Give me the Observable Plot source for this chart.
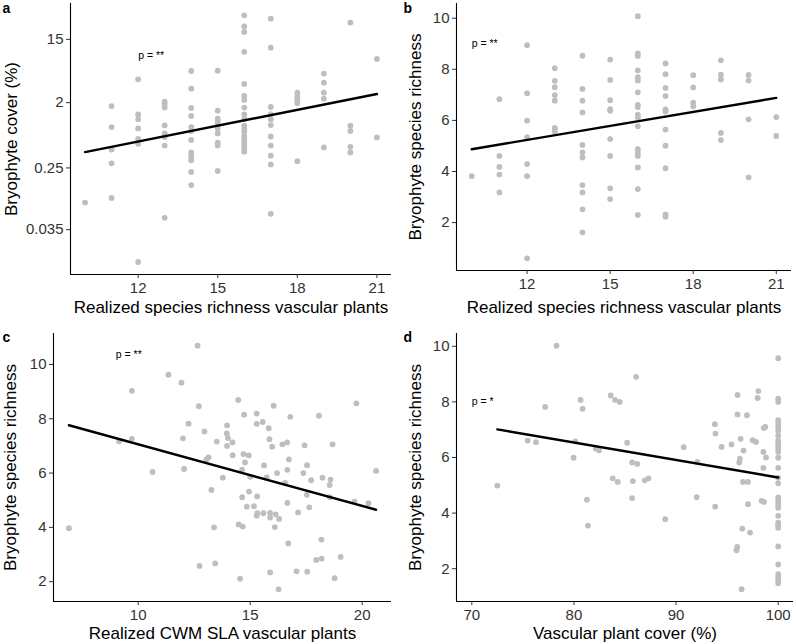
<!DOCTYPE html>
<html>
<head>
<meta charset="utf-8">
<script src="https://cdn.jsdelivr.net/npm/d3@7"></script>
<script src="https://cdn.jsdelivr.net/npm/@observablehq/plot@0.6"></script>
<style>
  html, body { margin: 0; padding: 0; background: #fff; }
  #grid { display: grid; grid-template-columns: 398px 398px; grid-template-rows: 322px 322px; width: 796px; height: 644px; }
  #grid svg { display: block; }
</style>
</head>
<body>
<div id="grid"></div>
<script>
// ---------- DATA ----------
const richnessLevels = [10, 11, 12, 13, 14, 15, 16, 17, 18, 19, 20, 21];

// Panel a: bryophyte cover (%) per realized vascular richness level
const coverByLevel = [
  [0.083],
  [1.79, 0.92, 0.45, 0.29, 0.096],
  [4.2, 1.37, 1.18, 0.88, 0.63, 0.54, 0.0125],
  [2.06, 1.92, 1.72, 0.97, 0.75, 0.67, 0.51, 0.051],
  [5.48, 3.12, 1.69, 1.31, 0.92, 0.81, 0.61, 0.41, 0.36, 0.32, 0.22, 0.145],
  [5.54, 1.55, 1.20, 1.09, 0.97, 0.87, 0.75, 0.56, 0.51, 0.227],
  [32.3, 22.7, 19.0, 10.1, 3.62, 2.47, 2.18, 1.71, 1.38, 1.18, 0.95, 0.86, 0.79, 0.69, 0.64, 0.60, 0.55, 0.50, 0.46, 0.42],
  [29.0, 11.5, 1.74, 1.39, 1.18, 0.98, 0.68, 0.51, 0.37, 0.28, 0.058],
  [2.75, 2.42, 2.18, 1.96, 0.31],
  [5.04, 3.78, 2.75, 2.27, 0.48],
  [25.6, 0.96, 0.81, 0.49, 0.41],
  [8.04, 0.66]
];

// Panel b: bryophyte species richness per realized vascular richness level
const bryoRichByLevel = [
  [3.82],
  [6.83, 4.61, 4.18, 3.88, 3.18],
  [8.94, 7.06, 5.99, 5.34, 4.29, 3.82, 0.60],
  [8.04, 7.55, 7.30, 6.99, 6.77, 5.71, 5.65, 5.57],
  [8.53, 7.23, 6.77, 6.31, 5.04, 4.75, 4.55, 3.47, 3.18, 2.52, 1.62],
  [8.38, 7.58, 6.79, 6.44, 6.38, 5.27, 4.61, 3.34, 2.92],
  [10.08, 8.62, 8.52, 7.96, 7.69, 7.56, 7.10, 6.61, 6.52, 6.22, 6.12, 5.77, 4.87, 4.74, 4.61, 4.16, 3.31, 2.30],
  [8.23, 7.81, 7.27, 6.95, 6.43, 6.35, 5.64, 5.01, 4.13, 2.32, 2.23],
  [7.77, 7.29, 6.69, 6.55],
  [8.35, 7.79, 7.60, 5.51, 5.23],
  [7.78, 7.56, 6.04, 3.77],
  [6.13, 5.39]
];

// Panel c: realized CWM SLA vs bryophyte richness
const slaValues = [
  6.91, 12.65, 11.35, 11.93, 9.72, 12.71, 12.25, 12.96, 12.0, 13.51, 9.15, 9.72, 13.14, 13.05, 10.64, 12.05, 13.78, 13.27, 13.39, 12.74, 13.44,
  14.47, 16.05, 19.74, 14.73, 15.29, 16.79, 18.07, 13.97, 15.29, 15.56, 15.83, 13.96, 14.01, 14.21, 13.97, 15.86, 15.98, 16.44, 16.65, 17.43, 18.68,
  14.22, 14.70, 14.94, 14.77, 16.73, 15.62, 17.54, 14.64, 16.66, 17.37, 15.00, 15.74, 16.20, 16.56, 17.72, 18.23, 18.59, 18.55, 20.62, 17.53,
  14.95, 14.64, 15.31, 16.66, 18.56, 19.66, 20.28, 14.85, 15.17, 15.29, 15.32, 15.59, 15.89, 15.89, 16.14, 16.29, 17.14, 17.64, 16.10, 14.49,
  14.67, 16.70, 18.18, 17.95, 18.19, 19.04, 15.89, 17.07, 17.55, 18.77, 14.55, 16.27
];
const slaBryoRich = [
  3.97, 10.69, 9.62, 9.33, 9.03, 8.46, 7.82, 7.53, 7.28, 7.16, 7.17, 7.26, 6.58, 6.50, 6.04, 6.15, 5.83, 5.38, 4.00, 2.58, 2.67,
  8.69, 8.48, 8.57, 8.15, 8.19, 8.07, 8.11, 7.76, 7.81, 7.88, 7.65, 7.46, 7.29, 7.13, 7.00, 7.25, 6.97, 7.06, 7.13, 7.02, 7.06,
  6.66, 6.70, 6.65, 6.39, 6.50, 6.28, 6.29, 6.13, 6.12, 6.00, 5.86, 5.84, 6.00, 5.64, 5.74, 5.83, 5.76, 5.56, 6.08, 5.20,
  5.32, 5.11, 5.14, 4.90, 5.11, 4.95, 4.89, 4.76, 4.78, 4.43, 4.52, 4.52, 4.53, 4.36, 4.48, 4.31, 4.55, 4.74, 4.01, 4.11,
  4.03, 3.41, 3.55, 2.80, 2.85, 2.91, 2.34, 2.38, 2.37, 2.13, 2.11, 1.72
];

// Panel d: vascular plant cover (%) vs bryophyte richness
const vascCover = [
  78.29, 72.49, 77.18, 75.47, 76.29, 80.65, 80.85, 83.60, 84.03, 84.49, 80.13, 79.96, 82.13, 82.46, 85.21, 83.80, 84.29, 81.27, 81.37,
  86.09, 85.70, 86.20, 85.77, 86.94, 87.30, 85.70, 88.94, 90.75, 92.02, 92.09, 93.80, 93.86, 94.46, 93.83, 95.43, 96.02, 96.02, 96.94,
  96.32, 96.61, 96.25, 96.19, 96.55, 97.04, 97.04, 96.48, 97.24, 95.99, 95.92, 96.42, 98.06, 97.99, 98.58, 98.74, 97.50, 97.83, 98.55,
  98.81, 98.55, 98.38, 98.61,
  100, 100, 100, 100, 100, 100, 100, 100, 100, 100, 100, 100, 100, 100, 100, 100,
  100, 100, 100, 100, 100, 100, 100, 100, 100, 100, 100, 100, 100, 100, 100
];
const vascBryoRich = [
  10.02, 4.99, 7.82, 6.61, 6.55, 8.07, 7.75, 8.23, 8.07, 8.00, 6.58, 5.99, 6.32, 6.26, 6.53, 5.25, 5.12, 4.48, 3.55,
  8.90, 5.82, 5.77, 5.15, 5.18, 5.25, 4.54, 3.78, 6.37, 4.57, 5.84, 7.20, 6.86, 6.38, 4.23, 6.47, 8.25, 7.55, 7.52,
  6.67, 6.25, 5.96, 5.82, 5.12, 5.12, 4.32, 3.44, 3.30, 2.78, 2.66, 1.26, 8.39, 8.14, 7.06, 7.10, 6.62, 6.56, 6.20,
  6.00, 5.63, 4.44, 4.40,
  9.57, 8.12, 8.00, 7.34, 7.21, 7.09, 6.95, 6.79, 6.61, 6.50, 6.42, 6.31, 6.20, 5.99, 5.63, 5.27,
  5.07, 4.56, 4.43, 4.31, 4.19, 3.90, 3.66, 3.56, 3.47, 2.80, 2.15, 1.80, 1.68, 1.59, 1.48
];

// Fitted regression lines (endpoints)
const fitAX = [10, 21], fitAY = [0.414, 2.63];
const fitBX = [10, 21], fitBY = [4.87, 6.88];
const fitCX = [6.91, 20.62], fitCY = [7.76, 4.65];
const fitDX = [72.5, 100], fitDY = [7.01, 5.28];

// Significance labels and their positions (data units)
const pLabels = ["p = **", "p = **", "p = **", "p = *"];
const pX = [12, 10, 9, 70];
const pY = [8.8, 9, 10.35, 8];

// Axis ticks
const xTicksAB = [12, 15, 18, 21];
const xTicksC = [10, 15, 20];
const xTicksD = [70, 80, 90, 100];
const yTicksA = [0.035, 0.25, 2, 15];
const yTicksBCD = [2, 4, 6, 8, 10];

const panelLetters = ["a", "b", "c", "d"];
const xTitles = [
  "Realized species richness vascular plants",
  "Realized species richness vascular plants",
  "Realized CWM SLA vascular plants",
  "Vascular plant cover (%)"
];
const yTitles = [
  "Bryophyte cover (%)",
  "Bryophyte species richness",
  "Bryophyte species richness",
  "Bryophyte species richness"
];

// ---------- BUILD TABLES ----------
const flatten = (levels, groups) => levels.flatMap((lv, i) => groups[i].map(v => ({x: lv, y: v})));
const zip = (xs, ys) => xs.map((x, i) => ({x, y: ys[i]}));

const dataA = flatten(richnessLevels, coverByLevel);
const dataB = flatten(richnessLevels, bryoRichByLevel);
const dataC = zip(slaValues, slaBryoRich);
const dataD = zip(vascCover, vascBryoRich);

const FONT = "'Liberation Sans', Arial, Helvetica, sans-serif";
const TICK_FS = 15, TITLE_FS = 17, TICK_COLOR = "#333";

function panel(i, cfg) {
  const [mt, mr, mb, ml] = cfg.margins;
  return Plot.plot({
    width: 398,
    height: 322,
    marginTop: mt, marginRight: mr, marginBottom: mb, marginLeft: ml,
    style: {fontFamily: FONT, background: "white"},
    x: {domain: cfg.xDomain},
    y: {domain: cfg.yDomain, type: cfg.yType || "linear"},
    marks: [
      Plot.dot(cfg.data, {x: "x", y: "y", r: 2.9, fill: "#bebebe", stroke: "none"}),
      Plot.line(cfg.fit, {x: "x", y: "y", stroke: "black", strokeWidth: 2.4}),
      Plot.text([pLabels[i]], {x: pX[i], y: pY[i], text: d => d, textAnchor: "start", fontSize: 10.5, fill: "black"}),
      Plot.ruleX([cfg.xDomain[0]], {stroke: "black", strokeWidth: 1.1}),
      Plot.ruleY([cfg.yDomain[0]], {stroke: "black", strokeWidth: 1.1}),
      Plot.axisX(cfg.xTicks, {tickSize: 4, tickPadding: 4, fontSize: TICK_FS, color: TICK_COLOR, label: null}),
      Plot.axisY(cfg.yTicks, {tickSize: 4, tickPadding: 2, fontSize: TICK_FS, color: TICK_COLOR, label: null, tickFormat: () => ""}),
      Plot.text(cfg.yTicks, {x: cfg.xDomain[0], y: d => d, text: d => String(d), dx: -7, textAnchor: "end", lineAnchor: "middle", fontSize: TICK_FS, fill: TICK_COLOR}),
      Plot.text([xTitles[i]], {frameAnchor: "bottom", text: d => d, dy: cfg.xTitleDy, fontSize: TITLE_FS, fill: "black", textAnchor: "middle", lineAnchor: "middle"}),
      Plot.text([yTitles[i]], {frameAnchor: "left", text: d => d, dx: cfg.yTitleX - ml, rotate: -90, fontSize: TITLE_FS, fill: "black", textAnchor: "middle", lineAnchor: "middle"}),
      Plot.text([panelLetters[i]], {frameAnchor: "top-left", text: d => d, dx: cfg.letter[0] - ml, dy: cfg.letter[1] - 4.5 - mt, textAnchor: "start", lineAnchor: "middle", fontSize: 14, fontWeight: "bold", fill: "black"})
    ]
  });
}

const grid = document.getElementById("grid");
grid.append(panel(0, {
  data: dataA, fit: zip(fitAX, fitAY), xDomain: [9.45, 21.55], yDomain: [0.0084, 47], yType: "log",
  margins: [3, 7, 48, 70], xTicks: xTicksAB, yTicks: yTicksA, xTitleDy: 33.5, yTitleX: 11, letter: [2, 13]
}));
grid.append(panel(1, {
  data: dataB, fit: zip(fitBX, fitBY), xDomain: [9.45, 21.55], yDomain: [0.125, 10.575],
  margins: [3, 5, 52, 58], xTicks: xTicksAB, yTicks: yTicksBCD, xTitleDy: 37.5, yTitleX: 17.5, letter: [5, 13]
}));
grid.append(panel(2, {
  data: dataC, fit: zip(fitCX, fitCY), xDomain: [6.22, 21.31], yDomain: [1.27, 11.14],
  margins: [11, 7, 43, 53], xTicks: xTicksC, yTicks: yTicksBCD, xTitleDy: 31.8, yTitleX: 10, letter: [2, 20]
}));
grid.append(panel(3, {
  data: dataD, fit: zip(fitDX, fitDY), xDomain: [68.5, 101.5], yDomain: [0.82, 10.46],
  margins: [11, 3, 43, 58], xTicks: xTicksD, yTicks: yTicksBCD, xTitleDy: 31.8, yTitleX: 17.5, letter: [5, 20]
}));
</script>
</body>
</html>
